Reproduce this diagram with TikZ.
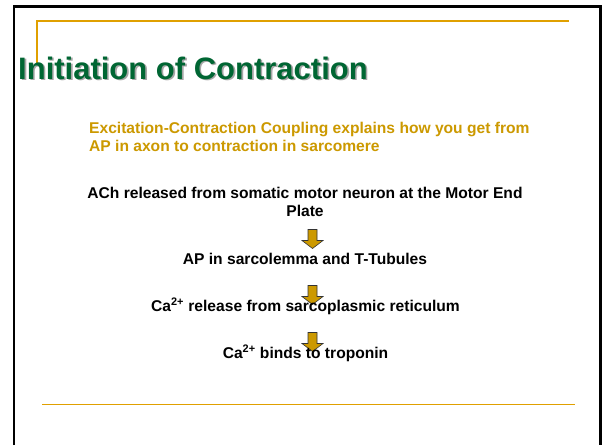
\documentclass[tikz,border=0pt]{standalone}
\usepackage{fontspec}
\setmainfont{Liberation Sans}
\definecolor{titlegreen}{HTML}{006633}
\definecolor{rulegold}{HTML}{E0A000}
\definecolor{subgold}{HTML}{CC9900}
\definecolor{arrowgold}{HTML}{CC9900}
\begin{document}
\begin{tikzpicture}[x=1pt,y=-1pt,
  frame/.style={line width=2.6pt,black},
  goldrule/.style={line width=1.3pt,rulegold},
  bodytext/.style={font=\bfseries\fontsize{15.6}{18}\selectfont,text=black,inner sep=0pt,align=center},
  subtext/.style={font=\bfseries\fontsize{15.6}{18}\selectfont,text=subgold,inner sep=0pt,align=left},
  titletext/.style={font=\bfseries\fontsize{31}{36}\selectfont,inner sep=0pt},
  arrowfill/.style={fill=arrowgold,draw=black!80,line width=0.6pt},
  downarrow/.pic={\path[arrowfill] (-4.5,0) -- (4.5,0) -- (4.5,11) -- (10.5,11) -- (0,19) -- (-10.5,11) -- (-4.5,11) -- cycle;}
]
\useasboundingbox (0,0) rectangle (602,445);
\fill[white] (0,0) rectangle (602,445);
% frame
\draw[frame] (14,445) -- (14,6.5) -- (600.7,6.5) -- (600.7,445);
% gold rules
\draw[goldrule] (37,63) -- (37,21) -- (569,21);
\draw[goldrule] (42,404.5) -- (575,404.5);
% title with shadow
\node[titletext,anchor=base west,text=titlegreen] (title) at (18,79) {\makebox[0pt][l]{\hspace{1.6pt}\raisebox{-1.4pt}{\textcolor{black!35}{Initiation of Contraction}}}Initiation of Contraction};
% subtitle
\node[subtext,anchor=base west] (sub) at (89,151) {Excitation-Contraction Coupling explains how you get from\\AP in axon to contraction in sarcomere};
% arrows
\pic at (312.5,229.5) {downarrow};
\pic at (312.5,285.5) {downarrow};
\pic at (312.5,332.5) {downarrow};
% steps
\node[bodytext,anchor=base] (s1) at (305,216) {ACh released from somatic motor neuron at the Motor End\\Plate};
\node[bodytext,anchor=base] (s2) at (305,264) {AP in sarcolemma and T-Tubules};
\node[bodytext,anchor=base] (s3) at (305.5,311) {Ca\textsuperscript{2+} release from sarcoplasmic reticulum};
\node[bodytext,anchor=base] (s4) at (305.5,358) {Ca\textsuperscript{2+} binds to troponin};
\end{tikzpicture}
\end{document}
